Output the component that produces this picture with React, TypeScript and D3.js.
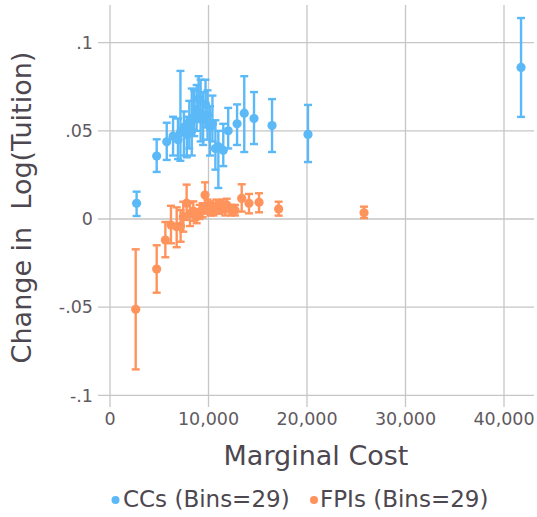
import React from "react";
import * as d3 from "d3";

// Binned means of the change in log tuition against marginal cost, with 95% CIs
const ccCost = [2700, 4740, 5760, 6400, 6900, 7150, 7500, 7800, 8050, 8300, 8550, 8800, 9000, 9200, 9450, 9700, 9900, 10150, 10400, 10700, 11000, 11500, 12000, 12900, 13630, 14620, 16450, 20100, 41730];
const ccMean = [0.0089, 0.0357, 0.0438, 0.047, 0.045, 0.049, 0.052, 0.048, 0.055, 0.05, 0.058, 0.062, 0.068, 0.06, 0.056, 0.065, 0.059, 0.052, 0.054, 0.04, 0.041, 0.039, 0.05, 0.054, 0.06, 0.057, 0.053, 0.048, 0.086];
const ccLow = [0.0017, 0.0267, 0.0335, 0.036, 0.034, 0.033, 0.036, 0.035, 0.04, 0.036, 0.047, 0.05, 0.055, 0.044, 0.042, 0.052, 0.045, 0.036, 0.044, 0.028, 0.0176, 0.03, 0.04, 0.042, 0.038, 0.0425, 0.038, 0.0323, 0.0579];
const ccHigh = [0.0155, 0.0452, 0.0546, 0.058, 0.057, 0.084, 0.061, 0.058, 0.067, 0.074, 0.073, 0.076, 0.081, 0.079, 0.072, 0.079, 0.073, 0.064, 0.07, 0.056, 0.05, 0.054, 0.063, 0.065, 0.081, 0.072, 0.068, 0.0647, 0.114];

const fpiCost = [2610, 4740, 5620, 6190, 6770, 7170, 7440, 7780, 8120, 8460, 8800, 9100, 9400, 9650, 9900, 10200, 10500, 10800, 11100, 11450, 11700, 11850, 12300, 12690, 13370, 14110, 15130, 17120, 25790];
const fpiMean = [-0.0512, -0.0284, -0.0119, -0.0034, -0.0044, -0.004, 0.0013, 0.009, 0.003, 0.0045, 0.0013, 0.004, 0.005, 0.0136, 0.007, 0.006, 0.0055, 0.007, 0.006, 0.0075, 0.0055, 0.008, 0.005, 0.005, 0.0117, 0.0089, 0.0095, 0.0057, 0.0035];
const fpiLow = [-0.0853, -0.0418, -0.0217, -0.0138, -0.016, -0.0129, -0.0072, -0.0005, -0.004, -0.001, -0.0024, 0.0, 0.001, 0.007, 0.003, 0.002, 0.002, 0.003, 0.003, 0.004, 0.002, 0.0045, 0.002, 0.002, 0.0042, 0.0032, 0.0038, 0.0019, 0.0005];
const fpiHigh = [-0.0172, -0.0149, -0.0017, 0.0075, 0.0066, 0.005, 0.0098, 0.0195, 0.009, 0.01, 0.005, 0.008, 0.009, 0.0208, 0.011, 0.01, 0.009, 0.011, 0.01, 0.011, 0.009, 0.0115, 0.008, 0.008, 0.0197, 0.0142, 0.0146, 0.0098, 0.007];

const xTicks = [0, 10000, 20000, 30000, 40000];
const yTicks = [-0.1, -0.05, 0, 0.05, 0.1];
const yTickLabels = ["-.1", "-.05", "0", ".05", ".1"];

const seriesNames = ["CCs (Bins=29)", "FPIs (Bins=29)"];

const BLUE = "#5cb9f7";
const ORANGE = "#ff935c";
const GRID = "#c6c6c6";
const FONT = "DejaVu Sans, sans-serif";

export default function App() {
  const W = 537;
  const H = 517;
  const x = d3.scaleLinear().domain([0, 40000]).range([110, 504]);
  const y = d3.scaleLinear().domain([-0.1, 0.1]).range([395.3, 42.7]);
  const fmt = d3.format(",");

  const series = [
    { cost: ccCost, mean: ccMean, low: ccLow, high: ccHigh, color: BLUE },
    { cost: fpiCost, mean: fpiMean, low: fpiLow, high: fpiHigh, color: ORANGE },
  ];

  const capHalf = 4;

  return (
    <svg
      width={W}
      height={H}
      style={{ position: "absolute", left: 0, top: 0, background: "#fff" }}
      fontFamily={FONT}
    >
      {/* gridlines with their tick stubs */}
      {yTicks.map((t) => (
        <line key={"gy" + t} x1={98} x2={534} y1={y(t)} y2={y(t)} stroke={GRID} strokeWidth={1.3} />
      ))}
      {xTicks.map((t) => (
        <line key={"gx" + t} x1={x(t)} x2={x(t)} y1={5} y2={407} stroke={GRID} strokeWidth={1.3} />
      ))}

      {/* tick labels */}
      {yTicks.map((t, i) => (
        <text key={"ly" + t} x={93} y={y(t)} dy="0.36em" textAnchor="end" fontSize={17.5} fill="#5f5a61">
          {yTickLabels[i]}
        </text>
      ))}
      {xTicks.map((t) => (
        <text key={"lx" + t} x={x(t)} y={425} textAnchor="middle" fontSize={17.5} fill="#5f5a61">
          {fmt(t)}
        </text>
      ))}

      {/* axis titles */}
      <text x={316} y={465} textAnchor="middle" fontSize={27} fill="#4d474f">
        Marginal Cost
      </text>
      <text
        transform={`translate(31,207.5) rotate(-90)`}
        textAnchor="middle"
        fontSize={27}
        fill="#4d474f"
        style={{ whiteSpace: "pre" }}
      >
        {"Change in  Log(Tuition)"}
      </text>

      {/* confidence intervals and bin means */}
      {series.map((s, si) => (
        <g key={"s" + si}>
          {s.cost.map((c, i) => {
            const cx = x(c);
            const yl = y(s.low[i]);
            const yh = y(s.high[i]);
            return (
              <g key={i} stroke={s.color} strokeWidth={2.4}>
                <line x1={cx} x2={cx} y1={yl} y2={yh} />
                <line x1={cx - capHalf} x2={cx + capHalf} y1={yl} y2={yl} />
                <line x1={cx - capHalf} x2={cx + capHalf} y1={yh} y2={yh} />
              </g>
            );
          })}
          {s.cost.map((c, i) => (
            <circle key={"p" + i} cx={x(c)} cy={y(s.mean[i])} r={4.6} fill={s.color} />
          ))}
        </g>
      ))}

      {/* legend */}
      <circle cx={115.5} cy={500} r={4} fill={BLUE} />
      <text x={123} y={507} fontSize={23} fill="#4d474f">
        {seriesNames[0]}
      </text>
      <circle cx={314} cy={500} r={4} fill={ORANGE} />
      <text x={320} y={507} fontSize={23} fill="#4d474f">
        {seriesNames[1]}
      </text>
    </svg>
  );
}
